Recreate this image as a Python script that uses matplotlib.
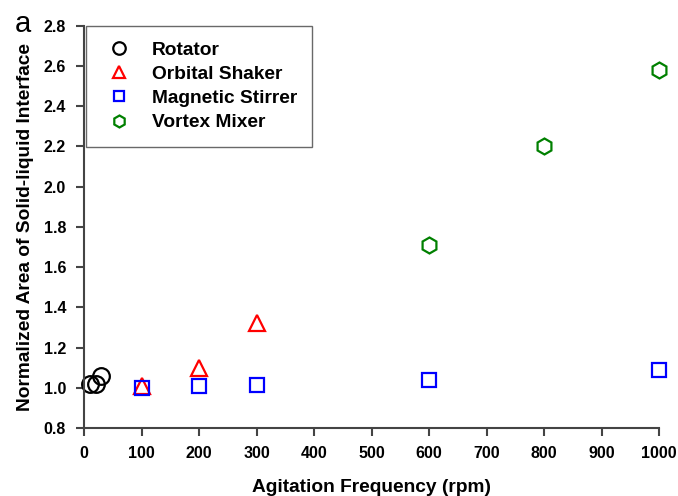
import matplotlib
matplotlib.use("Agg")
import matplotlib.pyplot as plt

rot_x = [10, 20, 30]
rot_y = [1.02, 1.02, 1.06]
orb_x = [100, 200, 300]
orb_y = [1.01, 1.10, 1.32]
mag_x = [100, 200, 300, 600, 1000]
mag_y = [1.00, 1.01, 1.015, 1.04, 1.09]
vor_x = [600, 800, 1000]
vor_y = [1.71, 2.20, 2.58]

plt.rcParams['font.family'] = ['Liberation Sans', 'DejaVu Sans']
plt.rcParams['font.weight'] = 'bold'

fig = plt.figure(figsize=(6.78, 4.96), dpi=100)
ax = fig.add_axes([0.124, 0.137, 0.848, 0.811])

ax.plot(rot_x, rot_y, 'o', mfc='none', mec='black', ms=12, mew=1.6, label='Rotator', clip_on=False)
ax.plot(orb_x, orb_y, '^', mfc='none', mec='red', ms=12, mew=1.6, label='Orbital Shaker', clip_on=False)
ax.plot(mag_x, mag_y, 's', mfc='none', mec='blue', ms=10.5, mew=1.6, label='Magnetic Stirrer', clip_on=False)
ax.plot(vor_x, vor_y, 'h', mfc='none', mec='green', ms=11.5, mew=1.6, label='Vortex Mixer', clip_on=False)

ax.set_xlim(0, 1000)
ax.set_ylim(0.8, 2.8)
ax.set_xticks(range(0, 1001, 100))
ax.set_yticks([0.8 + 0.2 * i for i in range(11)])
ax.set_yticklabels([f"{0.8 + 0.2 * i:.1f}" for i in range(11)])
ax.spines['top'].set_visible(False)
ax.spines['right'].set_visible(False)
for s in ('left', 'bottom'):
    ax.spines[s].set_linewidth(1.5)
    ax.spines[s].set_color('#444444')
ax.tick_params(direction='out', length=6, width=1.5, color='#444444', labelsize=11.5, pad=7)
for t in ax.get_xticklabels() + ax.get_yticklabels():
    t.set_fontweight('bold')

ax.set_xlabel('Agitation Frequency (rpm)', fontsize=13.8, fontweight='bold', labelpad=13)
ax.set_ylabel('Normalized Area of Solid-liquid Interface', fontsize=13.8, fontweight='bold', labelpad=7)

leg = ax.legend(loc='upper left', bbox_to_anchor=(0.004, 1.0), borderaxespad=0, frameon=True,
                fancybox=False, edgecolor='#444444', fontsize=13.8, handlelength=1.8,
                handletextpad=0.8, borderpad=0.8, labelspacing=0.36, markerscale=0.75)
leg.get_frame().set_linewidth(1.0)
for t in leg.get_texts():
    t.set_fontweight('bold')

fig.text(15 / 678, 1 - 10 / 496, 'a', fontsize=21, fontweight='normal', va='top', ha='left')

fig.savefig('out.png', dpi=100)
